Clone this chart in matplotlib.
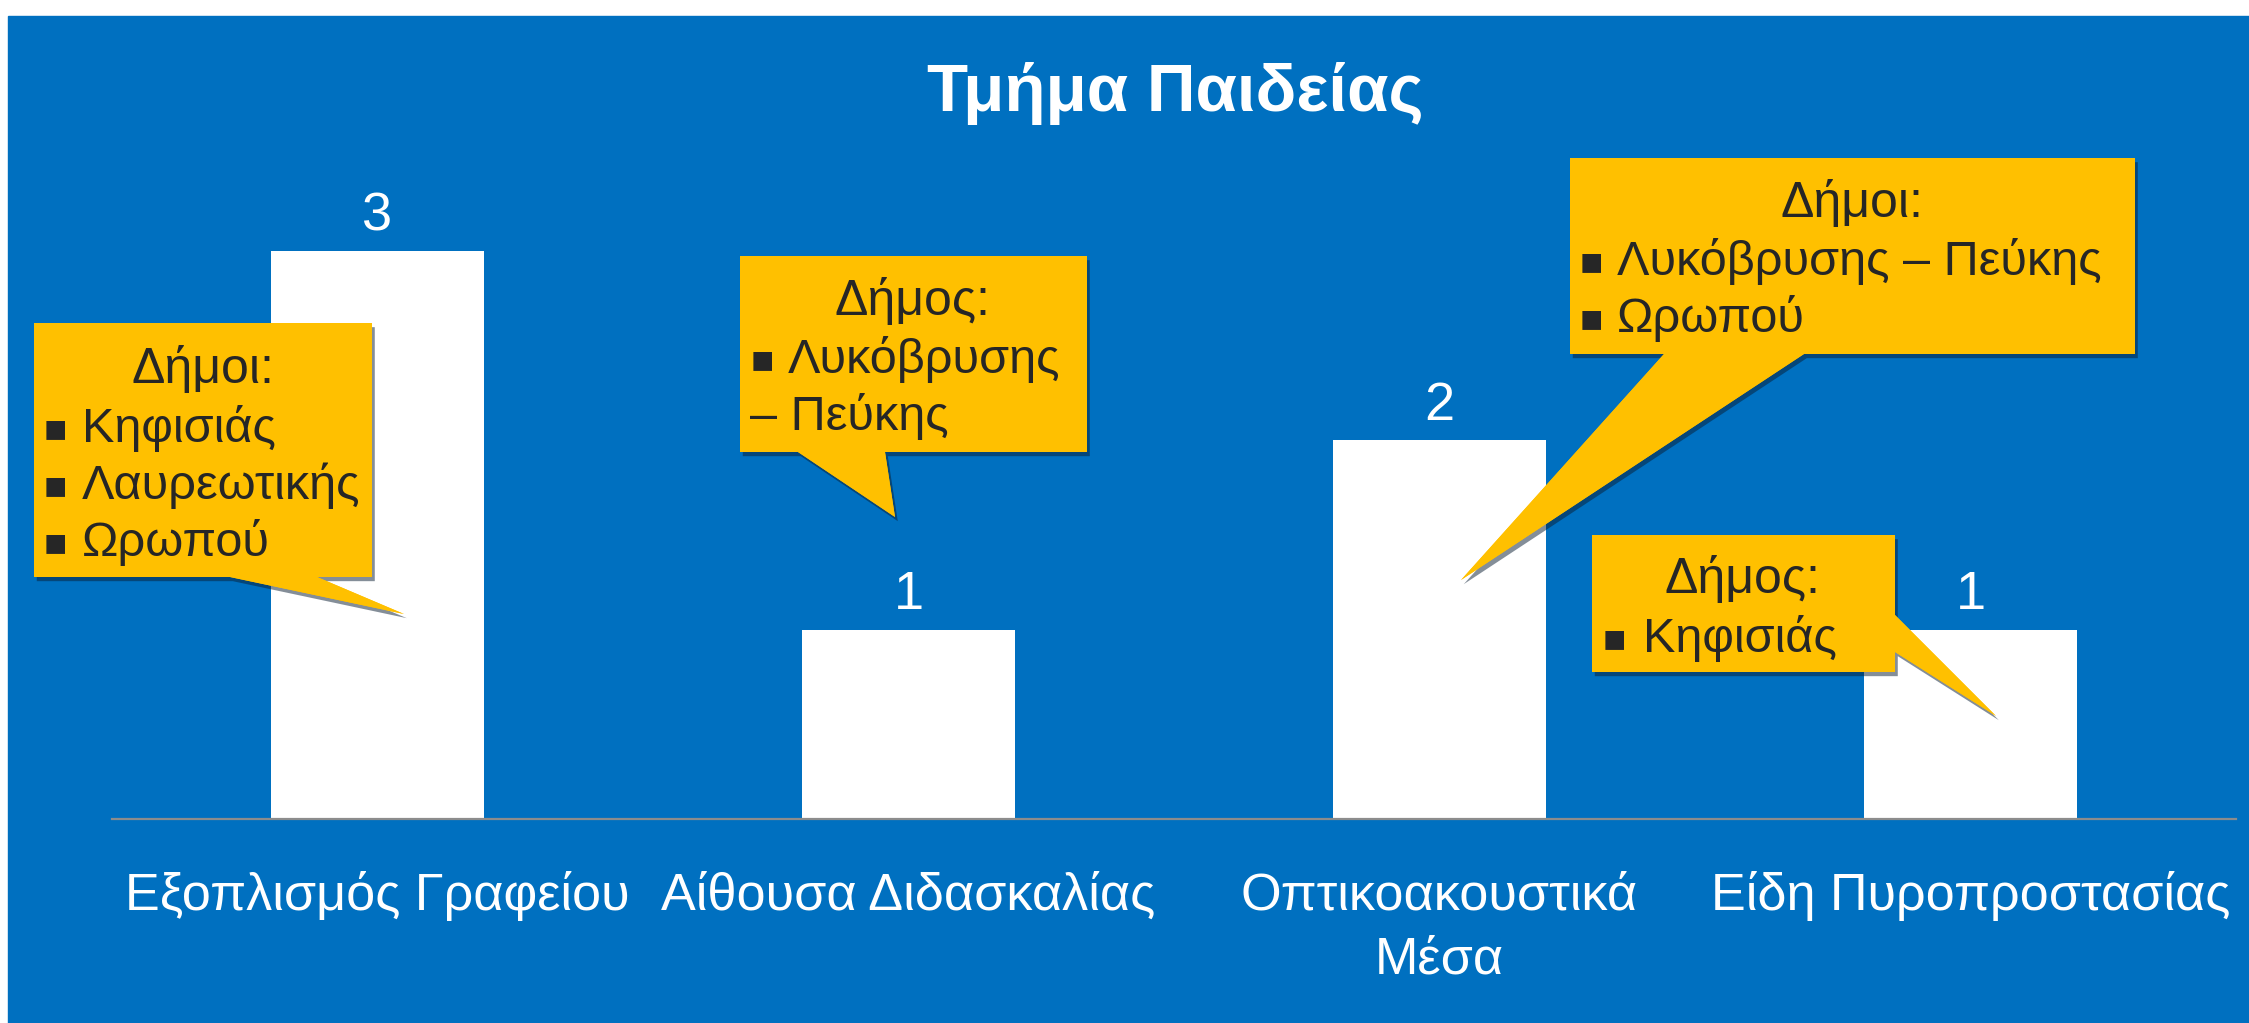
import matplotlib
matplotlib.use("Agg")
import matplotlib.pyplot as plt
import matplotlib.patheffects as pe
from matplotlib.patches import Polygon, Rectangle

plt.rcParams['font.family'] = ['Liberation Sans', 'DejaVu Sans']

#-----data-----#
title = "Τμήμα Παιδείας"
categories = ["Εξοπλισμός Γραφείου", "Αίθουσα Διδασκαλίας",
              "Οπτικοακουστικά\nΜέσα", "Είδη Πυροπροστασίας"]
counts = [3, 1, 2, 1]

callout_heads = ["Δήμοι:", "Δήμος:", "Δήμοι:", "Δήμος:"]
callout_items = [["Κηφισιάς", "Λαυρεωτικής", "Ωρωπού"],
                 ["Λυκόβρυσης"],
                 ["Λυκόβρυσης – Πεύκης", "Ωρωπού"],
                 ["Κηφισιάς"]]
callout_wrap = ["", "– Πεύκης", "", ""]  # wrapped rest of last item
#-----data-----#

blue = "#0070C0"
gold = "#FFC000"
ink = "#262626"
W, H = 2249, 1023

fig = plt.figure(figsize=(W / 100, H / 100), dpi=100)
fig.patch.set_facecolor("white")
fig.add_artist(Rectangle((8 / W, 0), 1 - 8 / W, 1 - 16 / H,
                         transform=fig.transFigure, color=blue, zorder=-1))

# main chart, pixel box: x 112..2236, baseline at y=819, 189.3 px per unit
ymax = 3.5
ax = fig.add_axes([112 / W, (H - 819) / H, (2236 - 112) / W, ymax * 189.3 / H])
ax.set_facecolor("none")
ax.set_xlim(-0.5, len(counts) - 0.5)
ax.set_ylim(0, ymax)
x = list(range(len(counts)))
ax.bar(x, counts, width=0.4, color="white", zorder=2)
for s in ["left", "right", "top"]:
    ax.spines[s].set_visible(False)
ax.spines["bottom"].set_color("#8C8C8C")
ax.spines["bottom"].set_linewidth(1.6)
ax.set_xticks([])
ax.set_yticks([])

for i, v in enumerate(counts):
    ax.annotate(str(v), (i, v), xytext=(0, 15), textcoords="offset points",
                ha="center", va="baseline", fontsize=39, color="white")
# category labels, one line at a time (baseline 91 px below axis, 63 px apart)
for i, c in enumerate(categories):
    for j, line in enumerate(c.split("\n")):
        ax.annotate(line, (i, 0), xytext=(0, -(91 + 63 * j) * 0.72),
                    textcoords="offset points", ha="center", va="baseline",
                    fontsize=37.5, color="white", annotation_clip=False)

fig.text(1175 / W, 1 - 111 / H, title, ha="center", va="baseline",
         fontsize=48.5, fontweight="bold", color="white")

#-----callouts (pixel coords, y down)-----#
ov = fig.add_axes([0, 0, 1, 1])
ov.set_xlim(0, W)
ov.set_ylim(H, 0)
ov.axis("off")
ov.set_zorder(5)

shapes = [
    [(34, 323), (372, 323), (372, 577), (317, 577), (404, 614), (230, 577), (34, 577)],
    [(740, 256), (1087, 256), (1087, 452), (885, 452), (895, 517), (798, 452), (740, 452)],
    [(1570, 158), (2135, 158), (2135, 354), (1804, 354), (1461, 580), (1664, 354), (1570, 354)],
    [(1592, 535), (1895, 535), (1895, 615), (1996, 716), (1895, 652), (1895, 672), (1592, 672)],
]
# head centre x, head baseline, bullet x, text x, first item baseline
layout = [
    (203, 383, 55, 82, 442),
    (913, 315, 762, 788, 373),
    (1852, 217, 1591, 1617, 275),
    (1743, 593, 1614, 1643, 652),
]
step = 57

for k in range(4):
    ov.add_patch(Polygon(shapes[k], closed=True, facecolor=gold, edgecolor="none",
                         path_effects=[pe.withSimplePatchShadow(offset=(2, -3),
                                                                shadow_rgbFace="#0a1e33",
                                                                alpha=0.5),
                                       pe.Normal()]))
    hx, hy, bx, tx, y0 = layout[k]
    ov.text(hx, hy, callout_heads[k], ha="center", va="baseline",
            fontsize=36, color=ink)
    y = y0
    for item in callout_items[k]:
        ov.text(bx, y - 3, "▪", ha="center", va="baseline", fontsize=27,
                color=ink, family="DejaVu Sans")
        ov.text(tx, y, item, ha="left", va="baseline", fontsize=35, color=ink)
        y += step
    if callout_wrap[k]:
        ov.text(bx - 12, y, callout_wrap[k], ha="left", va="baseline",
                fontsize=35, color=ink)

fig.savefig("out.png", dpi=100, facecolor=fig.get_facecolor())
